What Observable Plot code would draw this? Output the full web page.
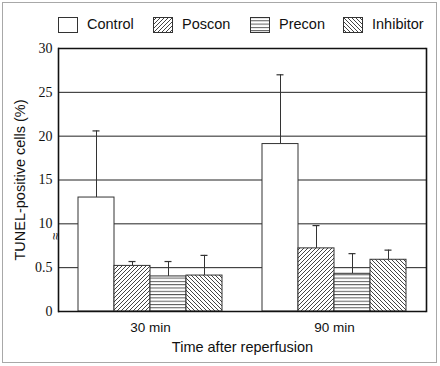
<!DOCTYPE html>
<html>
<head>
<meta charset="utf-8">
<script src="https://cdn.jsdelivr.net/npm/d3@7"></script>
<script src="https://cdn.jsdelivr.net/npm/@observablehq/plot@0.6"></script>
<style>
  html, body { margin: 0; padding: 0; background: #fff; }
  #wrap { position: relative; width: 440px; height: 366px; overflow: hidden; font-family: "Liberation Sans", Arial, sans-serif; }
  #border { position: absolute; left: 2px; top: 2px; width: 433px; height: 359px; border: 1px solid #a8a8a8; }
  #legend { position: relative; height: 40px; }
  .sw { position: absolute; top: 17px; width: 20px; height: 16px; }
  .lab { position: absolute; top: 14px; font-size: 14.5px; color: #111; line-height: 20px; }
  #chart { position: relative; }
  #chart svg { color: #111; }
  #chart svg text.xtick { font-family: "Liberation Sans", Arial, sans-serif; font-size: 13.5px; }
  #chart svg text.ttl { font-family: "Liberation Sans", Arial, sans-serif; font-size: 14.5px; }
</style>
</head>
<body>
<svg width="0" height="0" style="position:absolute">
  <defs>
    <pattern id="pPos" patternUnits="userSpaceOnUse" width="4" height="4">
      <rect width="4" height="4" fill="#fff"/>
      <path d="M-1,1 l2,-2 M0,4 l4,-4 M3,5 l2,-2" stroke="#444" stroke-width="1"/>
    </pattern>
    <pattern id="pInh" patternUnits="userSpaceOnUse" width="4" height="4">
      <rect width="4" height="4" fill="#fff"/>
      <path d="M-1,3 l2,2 M0,0 l4,4 M3,-1 l2,2" stroke="#444" stroke-width="1"/>
    </pattern>
    <pattern id="pPre" patternUnits="userSpaceOnUse" width="4" height="3.3">
      <rect width="4" height="3.3" fill="#fff"/>
      <line x1="0" x2="4" y1="0.5" y2="0.5" stroke="#555" stroke-width="1"/>
    </pattern>
  </defs>
</svg>
<div id="wrap">
  <div id="border"></div>
  <div id="legend"></div>
  <div id="chart"></div>
</div>
<script>
// ---- data ----
const times = ["30 min", "90 min"];
const treatments = ["Control", "Poscon", "Precon", "Inhibitor"];
const mean30 = [13.0, 0.52, 0.40, 0.41];
const upper30 = [20.6, 0.57, 0.57, 0.64];
const mean90 = [19.1, 0.72, 0.43, 0.59];
const upper90 = [27.0, 0.98, 0.66, 0.70];
const tickValues = [0, 0.5, 10, 15, 20, 25, 30];
const fills = ["#ffffff", "url(#pPos)", "url(#pPre)", "url(#pInh)"];

// broken axis: 0..1 (lower segment, 1 == 10) then 10..30
const yPos = v => v <= 1 ? 2 * v : 2 + (v - 10) / 5;

const rows = [];
times.forEach((t, gi) => {
  const means = gi === 0 ? mean30 : mean90;
  const ups = gi === 0 ? upper30 : upper90;
  treatments.forEach((tr, i) => rows.push({time: t, treatment: tr, mean: means[i], upper: ups[i]}));
});

// legend
const legend = document.getElementById("legend");
const legendX = [58, 153, 250, 343];
treatments.forEach((tr, i) => {
  const sw = document.createElementNS("http://www.w3.org/2000/svg", "svg");
  sw.setAttribute("class", "sw");
  sw.setAttribute("width", 20); sw.setAttribute("height", 16);
  sw.style.left = legendX[i] + "px";
  sw.innerHTML = `<rect x="0.5" y="0.5" width="19" height="15" fill="${fills[i]}" stroke="#333" stroke-width="1"/>`;
  legend.appendChild(sw);
  const lab = document.createElement("div");
  lab.className = "lab";
  lab.style.left = (legendX[i] + 29) + "px";
  lab.textContent = tr;
  legend.appendChild(lab);
});

const gridVals = tickValues.slice(1, -1).map(yPos);
const breakY = yPos(0.5) + 0.8 * (yPos(10) - yPos(0.5));

const chart = Plot.plot({
  width: 440,
  height: 326,
  marginLeft: 58,
  marginRight: 14,
  marginTop: 8,
  marginBottom: 55,
  fx: {domain: times, padding: 0, label: null},
  x: {domain: treatments, paddingInner: 0, paddingOuter: 0.5, axis: null},
  y: {domain: [0, 6], axis: null},
  color: {domain: treatments, range: fills},
  marks: [
    Plot.ruleY(gridVals, {stroke: "#222", strokeWidth: 1}),
    Plot.ruleX(rows, {fx: "time", x: "treatment", y1: d => yPos(d.mean), y2: d => yPos(d.upper), stroke: "#333", strokeWidth: 1}),
    Plot.tickY(rows, {fx: "time", x: "treatment", y: d => yPos(d.upper), stroke: "#333", strokeWidth: 1.2, insetLeft: 14.5, insetRight: 14.5}),
    Plot.barY(rows, {fx: "time", x: "treatment", y: d => yPos(d.mean), fill: "treatment", stroke: "#333", strokeWidth: 1}),
    Plot.ruleY([0, 6], {stroke: "#111", strokeWidth: 1.6}),
    Plot.frame({anchor: "left", facetAnchor: "left", stroke: "#111", strokeWidth: 1.6}),
    Plot.frame({anchor: "right", facetAnchor: "right", stroke: "#111", strokeWidth: 1.6}),
    Plot.axisY(tickValues.map(yPos), {
      anchor: "left", facetAnchor: "left", tickSize: 0, tickPadding: 6,
      tickFormat: () => "",
      label: "TUNEL-positive cells (%)", labelAnchor: "center", labelArrow: "none", labelOffset: 44
    }),
    Plot.text(tickValues, {
      y: d => yPos(d), text: d => String(d), frameAnchor: "left", textAnchor: "end", dx: -6,
      fontFamily: "Liberation Serif, Times New Roman, serif", fontSize: 14, fill: "#111", facetAnchor: "left"
    }),
    Plot.text(["≈"], {frameAnchor: "left", y: () => breakY, rotate: 90, dx: -3, fontSize: 13, facetAnchor: "left", fill: "#111"}),
    Plot.axisFx({anchor: "bottom", tickSize: 0, tickPadding: 11, fontSize: 13.5, fill: "#111",
      label: "Time after reperfusion", labelAnchor: "center", labelArrow: "none", labelOffset: 40})
  ]
});
chart.setAttribute("font-family", "Liberation Sans, Arial, sans-serif");
chart.querySelectorAll("text").forEach(t => {
  const s = t.textContent.trim();
  if (times.includes(s)) t.classList.add("xtick");
  else if (s.startsWith("TUNEL") || s.startsWith("Time")) t.classList.add("ttl");
});
document.getElementById("chart").appendChild(chart);
</script>
</body>
</html>
